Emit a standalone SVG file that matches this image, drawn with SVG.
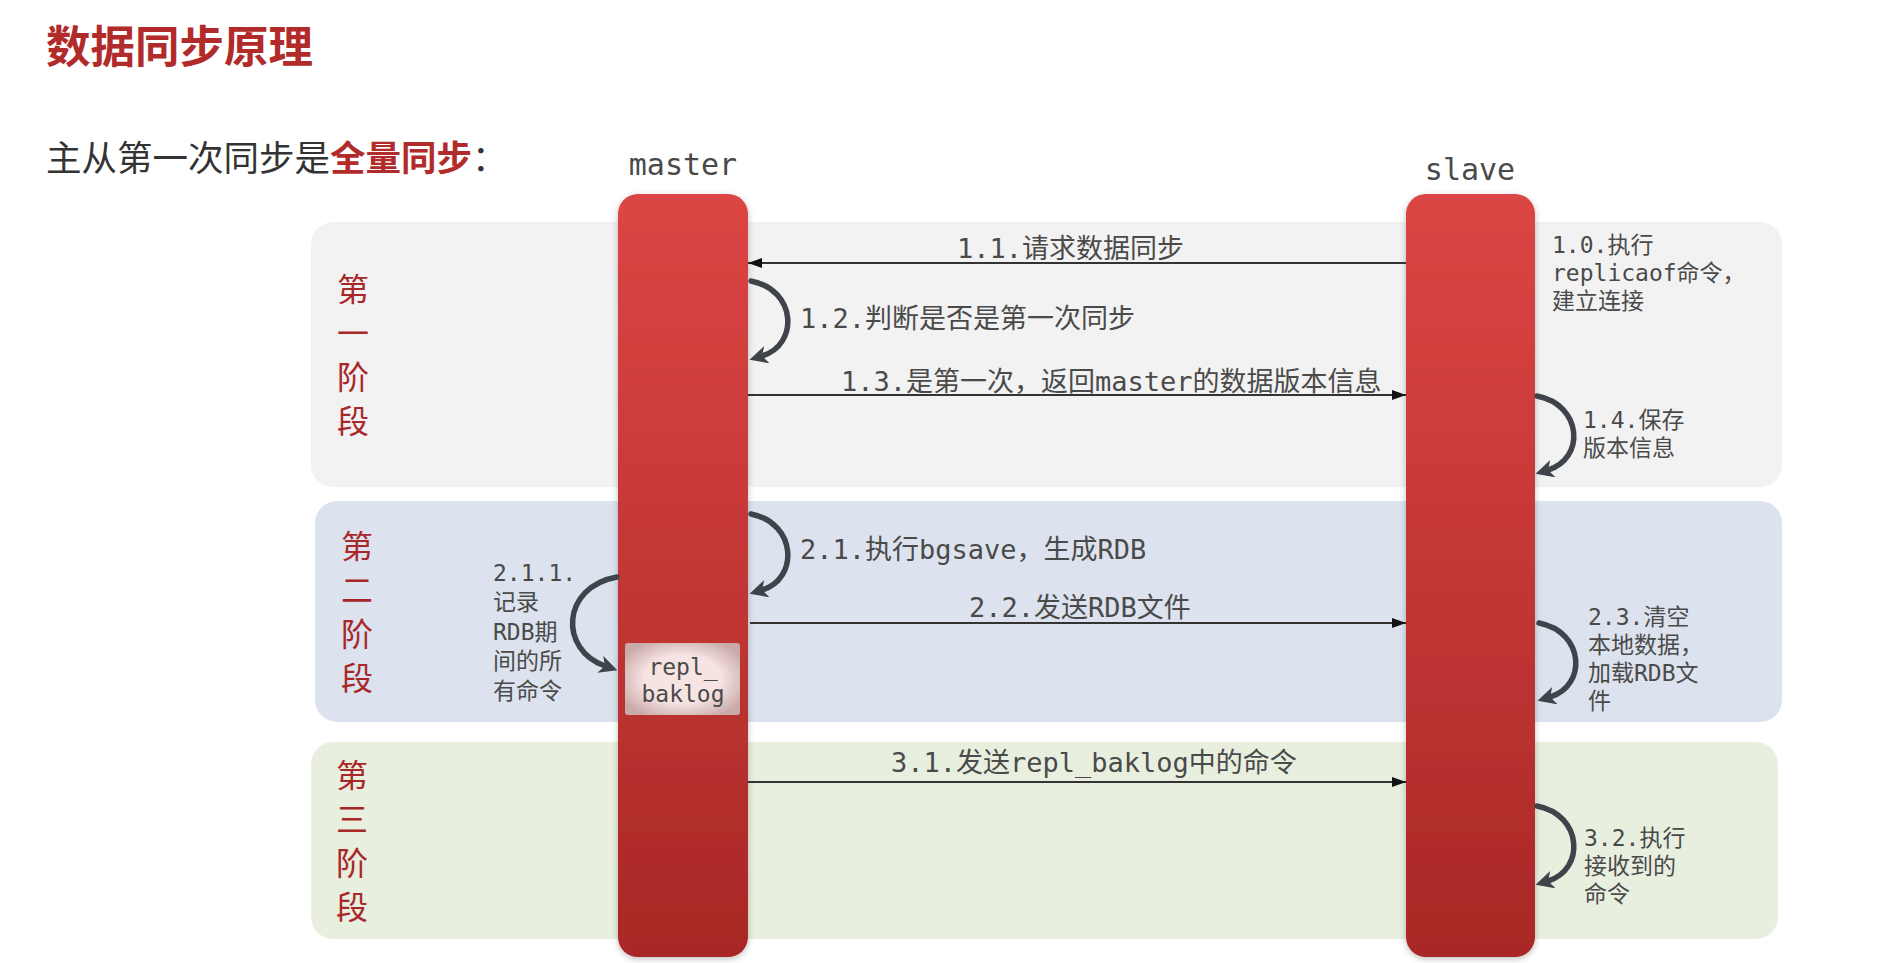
<svg xmlns="http://www.w3.org/2000/svg" width="1893" height="963" viewBox="0 0 1893 963">
  <style>
    .title { font-family: "Noto Sans CJK SC", sans-serif; font-weight: 700; fill: #b22b2b; }
    .sub { font-family: "Noto Sans CJK SC", sans-serif; fill: #333333; }
    .phase { font-family: "Noto Sans CJK SC", sans-serif; font-size: 32px; fill: #a8282a; text-anchor: middle; }
    .role { font-family: "DejaVu Sans Mono", "Noto Sans CJK SC", monospace; font-size: 30px; fill: #4a4a4a; text-anchor: middle; }
    .lbl { font-family: "DejaVu Sans Mono", "Noto Sans CJK SC", monospace; font-size: 27px; fill: #4a4a4a; }
    .side { font-family: "DejaVu Sans Mono", "Noto Sans CJK SC", monospace; font-size: 23px; fill: #4a4a4a; }
    .line { stroke: #333333; stroke-width: 2; fill: none; }
    .loop { stroke: #3e4449; stroke-width: 5.5; fill: none; stroke-linecap: round; }
  </style>
  <defs>
    <linearGradient id="barGrad" x1="0" y1="0" x2="0" y2="1">
      <stop offset="0" stop-color="#dc4544"/>
      <stop offset="1" stop-color="#a92826"/>
    </linearGradient>
    <radialGradient id="logGrad" cx="0.5" cy="0.5" r="0.6">
      <stop offset="0.55" stop-color="#f6e4e3"/>
      <stop offset="1" stop-color="#c9aaa9"/>
    </radialGradient>
    <filter id="shadow" x="-20%" y="-5%" width="140%" height="110%">
      <feDropShadow dx="0" dy="2" stdDeviation="3" flood-color="#000000" flood-opacity="0.25"/>
    </filter>
    <marker id="head" viewBox="0 0 14 10" refX="14" refY="5" markerWidth="14" markerHeight="10" markerUnits="userSpaceOnUse" orient="auto">
      <path d="M0,0 L14,5 L0,10 z" fill="#111111"/>
    </marker>
    <marker id="loopHead" viewBox="0 0 18 18" refX="5" refY="9" markerWidth="18" markerHeight="18" markerUnits="userSpaceOnUse" orient="auto">
      <path d="M0,0 L18,9 L0,18 L5,9 z" fill="#3e4449"/>
    </marker>
  </defs>

  <rect x="0" y="0" width="1893" height="963" fill="#ffffff"/>

  <g id="title">
    <text class="title" x="46" y="63" font-size="44.5">数据同步原理</text>
  </g>
  <g id="subtitle">
    <text class="sub" x="46" y="171" font-size="35.5">主从第一次同步是<tspan font-weight="700" fill="#b22b2b">全量同步</tspan>：</text>
  </g>

  <g id="phase1">
    <rect x="311" y="222" width="1471" height="265" rx="22" fill="#f2f2f2"/>
    <text class="phase" x="353" y="301">第</text>
    <text class="phase" x="353" y="345">一</text>
    <text class="phase" x="353" y="389">阶</text>
    <text class="phase" x="353" y="433">段</text>
  </g>
  <g id="phase2">
    <rect x="315" y="501" width="1467" height="221" rx="22" fill="#dce3ee"/>
    <text class="phase" x="357" y="558">第</text>
    <text class="phase" x="357" y="602">二</text>
    <text class="phase" x="357" y="646">阶</text>
    <text class="phase" x="357" y="690">段</text>
  </g>
  <g id="phase3">
    <rect x="311" y="742" width="1467" height="197" rx="22" fill="#e9efdf"/>
    <text class="phase" x="352" y="787">第</text>
    <text class="phase" x="352" y="831">三</text>
    <text class="phase" x="352" y="875">阶</text>
    <text class="phase" x="352" y="919">段</text>
  </g>

  <g id="master">
    <text class="role" x="683" y="175">master</text>
    <rect x="618" y="194" width="130" height="763" rx="20" fill="url(#barGrad)" filter="url(#shadow)"/>
  </g>
  <g id="slave">
    <text class="role" x="1470" y="180">slave</text>
    <rect x="1406" y="194" width="129" height="763" rx="20" fill="url(#barGrad)" filter="url(#shadow)"/>
  </g>

  <g id="repl_baklog">
    <rect x="625" y="643" width="115" height="72" rx="3" fill="url(#logGrad)"/>
    <text class="side" x="683" y="675" text-anchor="middle" font-size="25" fill="#3a3a3a">repl_</text>
    <text class="side" x="683" y="702" text-anchor="middle" font-size="25" fill="#3a3a3a">baklog</text>
  </g>

  <g id="connectors">
    <line class="line" x1="1406" y1="263" x2="748" y2="263" marker-end="url(#head)"/>
    <line class="line" x1="748" y1="395" x2="1406" y2="395" marker-end="url(#head)"/>
    <line class="line" x1="750" y1="623" x2="1406" y2="623" marker-end="url(#head)"/>
    <line class="line" x1="748" y1="782" x2="1406" y2="782" marker-end="url(#head)"/>

    <path class="loop" d="M751 281 C797 290, 799 345, 762 356" marker-end="url(#loopHead)"/>
    <path class="loop" d="M1537 396 C1583 405, 1585 459, 1548 470" marker-end="url(#loopHead)"/>
    <path class="loop" d="M751 514 C797 523, 799 579, 762 590" marker-end="url(#loopHead)"/>
    <path class="loop" d="M1539 623 C1585 632, 1587 686, 1550 697" marker-end="url(#loopHead)"/>
    <path class="loop" d="M1537 806 C1583 815, 1585 870, 1548 881" marker-end="url(#loopHead)"/>
    <path class="loop" d="M617 577 C561 587, 559 650, 605 666" marker-end="url(#loopHead)"/>
  </g>

  <g id="labels">
    <text class="lbl" x="957" y="258">1.1.请求数据同步</text>
    <text class="lbl" x="800" y="328" font-size="28">1.2.判断是否是第一次同步</text>
    <text class="lbl" x="841" y="391">1.3.是第一次，返回master的数据版本信息</text>
    <text class="lbl" x="800" y="559">2.1.执行bgsave，生成RDB</text>
    <text class="lbl" x="969" y="617">2.2.发送RDB文件</text>
    <text class="lbl" x="891" y="772">3.1.发送repl_baklog中的命令</text>

    <text class="side" x="1552" y="253">1.0.执行</text>
    <text class="side" x="1552" y="281">replicaof命令，</text>
    <text class="side" x="1552" y="309">建立连接</text>

    <text class="side" x="1583" y="428">1.4.保存</text>
    <text class="side" x="1583" y="456">版本信息</text>

    <text class="side" x="493" y="581">2.1.1.</text>
    <text class="side" x="493" y="610">记录</text>
    <text class="side" x="493" y="640">RDB期</text>
    <text class="side" x="493" y="669">间的所</text>
    <text class="side" x="493" y="699">有命令</text>

    <text class="side" x="1588" y="625">2.3.清空</text>
    <text class="side" x="1588" y="653">本地数据，</text>
    <text class="side" x="1588" y="681">加载RDB文</text>
    <text class="side" x="1588" y="709">件</text>

    <text class="side" x="1584" y="846">3.2.执行</text>
    <text class="side" x="1584" y="874">接收到的</text>
    <text class="side" x="1584" y="902">命令</text>
  </g>
</svg>
